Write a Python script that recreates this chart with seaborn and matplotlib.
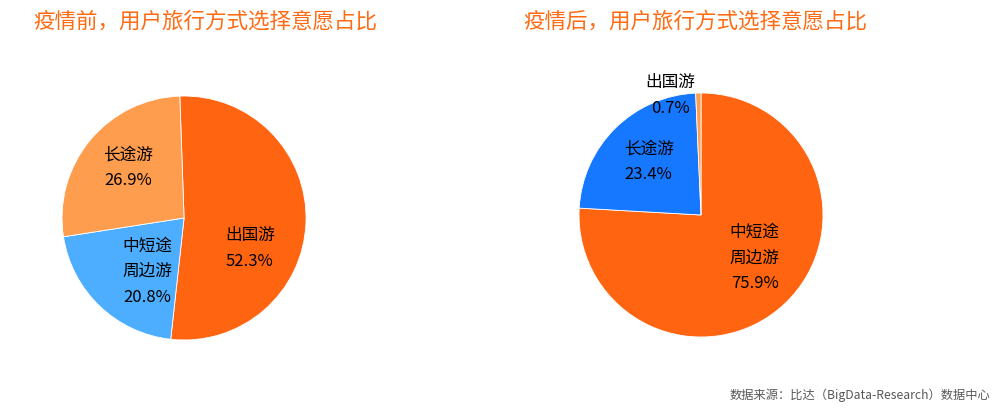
import matplotlib
matplotlib.use("Agg")
import matplotlib.pyplot as plt
import seaborn as sns

sns.set_theme(style="white")
plt.rcParams['font.family'] = ['Noto Sans CJK SC', 'DejaVu Sans']

# data
before_labels = ["出国游", "中短途\n周边游", "长途游"]
before_values = [52.3, 20.8, 26.9]
before_colors = ["#FF6511", "#4DAEFF", "#FF9D4F"]

after_labels = ["中短途\n周边游", "长途游", "出国游"]
after_values = [75.9, 23.4, 0.7]
after_colors = ["#FF6511", "#1677FF", "#FF9D4F"]

titles = ["疫情前，用户旅行方式选择意愿占比", "疫情后，用户旅行方式选择意愿占比"]

# label positions (pie units, radius = 1)
before_pos = [(0.54, -0.25), (-0.30, -0.44), (-0.46, 0.41)]
after_pos = [(0.44, -0.35), (-0.43, 0.44), (-0.25, 0.98)]

fig = plt.figure(figsize=(9.93, 4.12), dpi=100)
ax1 = fig.add_axes([0.0379, 0.1155, 0.2949, 0.7107])
ax2 = fig.add_axes([0.5585, 0.1228, 0.2949, 0.7107])


def draw_pie(ax, values, labels, colors, pos, start):
    ax.pie(values, colors=colors, startangle=start, counterclock=False,
           radius=1.0, wedgeprops=dict(edgecolor="white", linewidth=0.6))
    for v, lab, (x, y) in zip(values, labels, pos):
        ax.text(x, y, f"{lab}\n{v}%", ha="center", va="center",
                fontsize=12, color="black", linespacing=1.65)
    ax.set_xlim(-1.2, 1.2)
    ax.set_ylim(-1.2, 1.2)
    ax.set_aspect("equal")
    ax.axis("off")


draw_pie(ax1, before_values, before_labels, before_colors, before_pos, 92)
draw_pie(ax2, after_values, after_labels, after_colors, after_pos, 90)

fig.text(33 / 993, 1 - 22 / 412, titles[0], fontsize=15.5, color="#FF6A13",
         ha="left", va="center")
fig.text(523 / 993, 1 - 22 / 412, titles[1], fontsize=15.5, color="#FF6A13",
         ha="left", va="center")
fig.text(990 / 993, 1 - 395 / 412, "数据来源：比达（BigData-Research）数据中心",
         fontsize=8.8, color="#595959", ha="right", va="center")

fig.savefig("out.png", dpi=100)
